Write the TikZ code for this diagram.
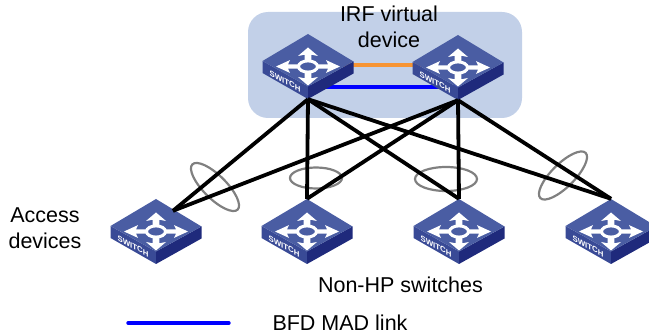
\documentclass[tikz,border=0pt]{standalone}
\usepackage{fontspec}
\setmainfont{Liberation Sans}
\usetikzlibrary{positioning}

\definecolor{regionblue}{HTML}{C2D0E8}
\definecolor{swtop}{HTML}{4A5DA3}
\definecolor{swleft}{HTML}{394A96}
\definecolor{swright}{HTML}{1F2A7C}
\definecolor{irforange}{HTML}{F79433}

\newcommand{\switchicon}{%
	\begin{scope}[shift={(path picture bounding box.center)}]
		\fill[swleft] (-45.5,-5.5) -- (0,20) -- (0,32.5) -- (-45.5,6.5) -- cycle;
		\fill[swright] (45.5,-5) -- (0,20) -- (0,32.5) -- (45.5,7) -- cycle;
		\fill[swtop] (-45.5,-5.5) -- (0,-32.5) -- (45.5,-5) -- (0,20) -- cycle;
		\node[transform shape,yslant=-0.55,text=white,inner sep=0pt,font=\bfseries\fontsize{7.8}{8}\selectfont] at (-23,14.5) {SWITCH};
		\begin{scope}[shift={(0,-6.5)}]
			\fill[white] (32,0) -- (18,6.4) -- (20,2.2) -- (9,2.2) -- (9,-2.2) -- (20,-2.2) -- (18,-6.4) -- cycle;
			\fill[white] (-32,0) -- (-18,6.4) -- (-20,2.2) -- (-9,2.2) -- (-9,-2.2) -- (-20,-2.2) -- (-18,-6.4) -- cycle;
			\fill[white] (0,19) -- (10,10.5) -- (3.4,11.8) -- (3.4,5) -- (-3.4,5) -- (-3.4,11.8) -- (-10,10.5) -- cycle;
			\fill[white] (0,-19) -- (10,-10.5) -- (3.4,-11.8) -- (3.4,-5) -- (-3.4,-5) -- (-3.4,-11.8) -- (-10,-10.5) -- cycle;
			\draw[white,line width=3pt] (0,0) ellipse (9.5 and 5.6);
		\end{scope}
	\end{scope}}

\tikzset{
	switchbox/.style={rectangle,inner sep=0pt,minimum width=91pt,minimum height=65pt,path picture={\switchicon}},
	label/.style={font=\fontsize{21.5}{26}\selectfont,align=center,inner sep=0pt},
	trunk/.style={black,line width=3.8pt},
	bundle/.style={draw=gray,line width=2.2pt},
	bfdlink/.style={blue,line width=3.4pt},
	irflink/.style={irforange,line width=3.4pt}
}

\begin{document}
\begin{tikzpicture}[x=1pt,y=-1pt]

	\useasboundingbox (0,0) rectangle (649,334);

	\node (irf) [rectangle,rounded corners=20pt,fill=regionblue,minimum width=274pt,minimum height=106pt,inner sep=0pt] at (385,65) {};

	\coordinate (irfal) at (308,66.5);
	\coordinate (irfbl) at (458,67.5);
	\draw[irflink] ([yshift=1.5pt]irfal) -- ([yshift=2.5pt]irfbl);
	\draw[bfdlink] ([yshift=-20.5pt]irfal) -- ([yshift=-19.5pt]irfbl);

	\node (irfa) [switchbox] at (irfal) {};
	\node (irfb) [switchbox] at (irfbl) {};

	\node (acca) [switchbox] at (156,231.5) {};
	\node (accb) [switchbox] at (307,231.5) {};
	\node (accc) [switchbox] at (459,231.5) {};
	\node (accd) [switchbox] at (611,231.5) {};

	% bundles
	\draw[bundle,rotate around={-45:(215,187)}] (215,187) ellipse (32 and 11.5);
	\draw[bundle] (316,178) ellipse (26 and 10.5);
	\draw[bundle] (446,179) ellipse (31 and 12);
	\draw[bundle,rotate around={45:(563,175.5)}] (563,175.5) ellipse (32 and 11.5);

	\foreach \s in {irfa,irfb} {
		\draw[trunk] (\s.south) -- ([shift={(17,12)}]acca.north);
		\draw[trunk] (\s.south) -- (accb.north);
		\draw[trunk] (\s.south) -- (accc.north);
		\draw[trunk] (\s.south) -- (accd.north);
	}

	\node (irflabel) [label] at (389,27) {IRF virtual\\device};
	\node (acclabel) [label] at (45,228) {Access\\devices};
	\node (nonhp) [label] at (400.5,285) {Non-HP switches};
	\node (bfdlabel) [label] at (340,323) {BFD MAD link};

	\coordinate (keya) at (128,323);
	\coordinate (keyb) at (229,323);
	\draw[bfdlink,line cap=round] (keya) -- (keyb);

\end{tikzpicture}
\end{document}
